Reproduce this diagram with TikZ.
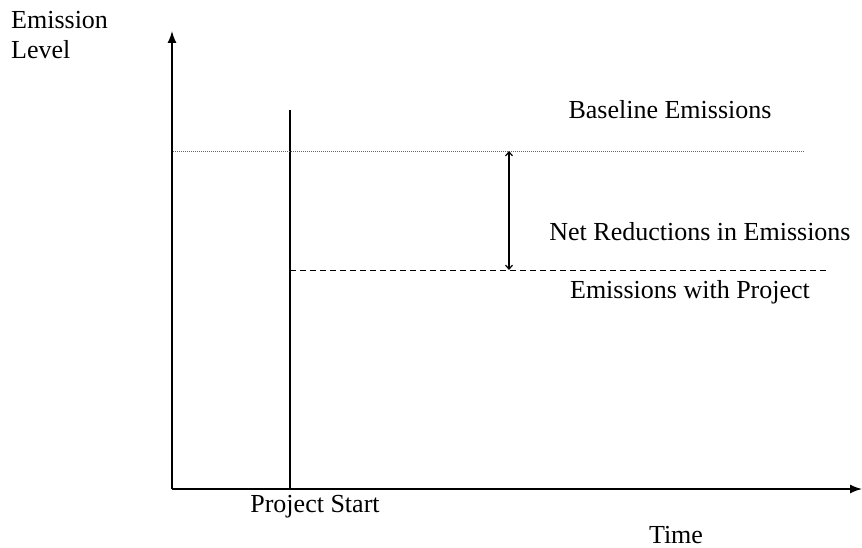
\documentclass[tikz,border=0pt]{standalone}
\usepackage{fontspec}
\setmainfont{Liberation Serif}
\usepackage{tikz}
\usetikzlibrary{arrows.meta,positioning}
\tikzset{
  axis/.style={line width=1.4pt, -{Latex[length=12pt,width=9pt]}},
  startline/.style={line width=1.4pt},
  baseline/.style={line width=0.9pt, black!60, dash pattern=on 1pt off 1pt},
  projline/.style={line width=1pt, dash pattern=on 6pt off 4pt},
  gap/.style={line width=1.2pt, {Straight Barb[length=4pt,width=7pt]}-{Straight Barb[length=4pt,width=7pt]}},
  lbl/.style={font=\fontsize{26}{30}\selectfont, inner sep=0pt, align=left}
}
\begin{document}
\begin{tikzpicture}[x=1pt,y=-1pt]
\useasboundingbox (0,0) rectangle (862,548);
% axes
\coordinate (origin) at (172,489);
\coordinate (ytop) at (172,31);
\coordinate (xend) at (862,489);
\draw[axis] (origin) -- (ytop);
\draw[axis] (origin) -- (xend);
% project start
\coordinate (start) at (290,489);
\coordinate (starttop) at (290,110);
\draw[startline] (start) -- (starttop);
% emission levels
\coordinate (base0) at (173,151);
\coordinate (base1) at (805,151);
\coordinate (proj0) at (290,270);
\coordinate (proj1) at (828,270);
\coordinate (gaptop) at (509,151);
\coordinate (gapbot) at (509,270);
\draw[baseline] (base0) -- (base1);
\draw[projline] (proj0) -- (proj1);
\draw[gap] (gaptop) -- (gapbot);
% labels
\node[lbl, anchor=north west] (ylbl) at (11,11) {Emission\\Level};
\node[lbl] (baselbl) at (670,110) {Baseline Emissions};
\node[lbl] (netlbl) at (700,232) {Net Reductions in Emissions};
\node[lbl] (projlbl) at (690,292) {Emissions with Project};
\node[lbl] (startlbl) at (315,507) {Project Start};
\node[lbl] (xlbl) at (676,535) {Time};
\end{tikzpicture}
\end{document}
